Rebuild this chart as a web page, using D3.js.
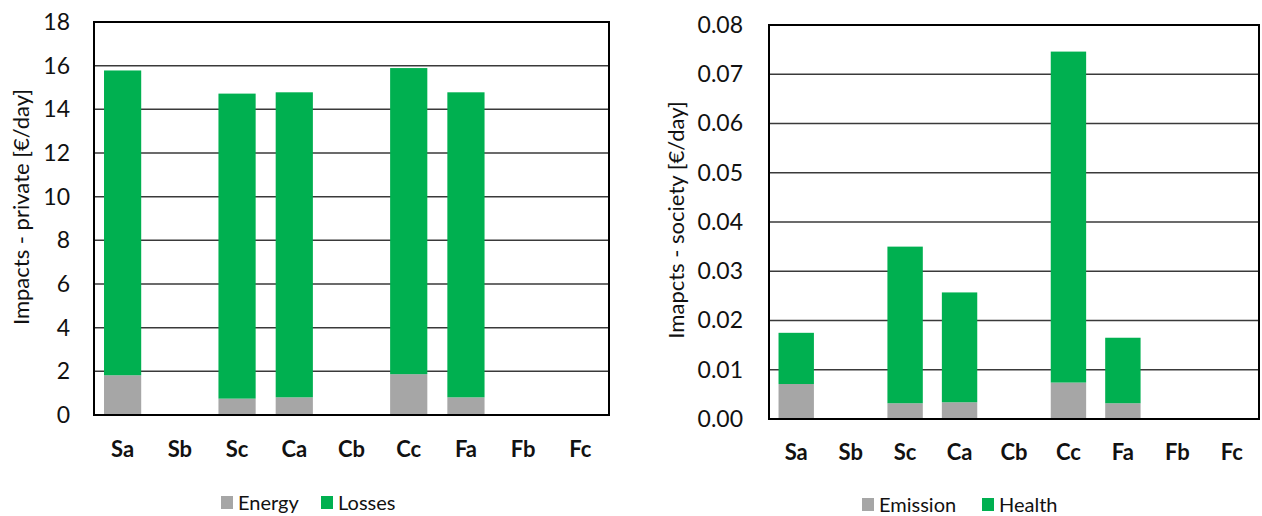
<!DOCTYPE html>
<html><head><meta charset="utf-8">
<script src="https://cdn.jsdelivr.net/npm/d3@7"></script>
<style>body{margin:0;background:#fff}svg{display:block}text{font-family:Lato,"Open Sans",sans-serif;fill:#111}</style>
</head><body>
<svg id="c" width="1262" height="516"></svg>
<script>
const categories = ["Sa","Sb","Sc","Ca","Cb","Cc","Fa","Fb","Fc"];
const energy = [1.82,0,0.75,0.81,0,1.87,0.81,0,0];
const losses = [13.96,0,13.97,13.97,0,14.02,13.97,0,0];
const emission = [0.0071,0,0.0032,0.0034,0,0.0074,0.0032,0,0];
const health = [0.0104,0,0.0318,0.0223,0,0.0672,0.0133,0,0];
const leftTicks = [0,2,4,6,8,10,12,14,16,18];
const rightTicks = [0,0.01,0.02,0.03,0.04,0.05,0.06,0.07,0.08];

const svg = d3.select("#c");
const GRAY = "#a6a6a6", GREEN = "#00b050";

function panel(o){
  const g = svg.append("g");
  const x = d3.scaleBand().domain(categories).range([o.x0,o.x1]).paddingInner(0.35).paddingOuter(0.175);
  const y = d3.scaleLinear().domain([0,o.max]).range([o.y0,o.y1]);
  g.append("g").selectAll("line").data(o.ticks).join("line")
    .attr("x1",o.x0).attr("x2",o.x1).attr("y1",d=>y(d)).attr("y2",d=>y(d))
    .attr("stroke","#3a3a3a").attr("stroke-width",1.5);
  const rows = categories.map((c,i)=>({c,a:o.a[i],b:o.b[i]}));
  const stack = d3.stack().keys(["a","b"])(rows);
  const colors=[GRAY,GREEN];
  stack.forEach((s,k)=>{
    g.append("g").selectAll("rect").data(s).join("rect")
      .attr("x",d=>x(d.data.c)).attr("width",x.bandwidth())
      .attr("y",d=>y(d[1])).attr("height",d=>y(d[0])-y(d[1]))
      .attr("fill",colors[k]);
  });
  g.append("rect").attr("x",o.x0).attr("y",o.y1).attr("width",o.x1-o.x0).attr("height",o.y0-o.y1)
    .attr("fill","none").attr("stroke","#000").attr("stroke-width",2);
  const ya = g.append("g").attr("transform",`translate(${o.x0},0)`)
    .call(d3.axisLeft(y).tickValues(o.ticks).tickFormat(o.fmt).tickSize(0).tickPadding(o.pad));
  ya.select(".domain").remove();
  ya.selectAll("text").style("font-size","23px").attr("fill","#111");
  const xa = g.append("g").attr("transform",`translate(0,${o.y0})`)
    .call(d3.axisBottom(x).tickSize(0).tickPadding(o.xpad));
  xa.select(".domain").remove();
  xa.selectAll("text").style("font-size","22px").style("font-weight","bold").attr("fill","#111");
  g.append("text").attr("transform",`translate(${o.tx},${o.ty}) rotate(-90)`)
    .attr("text-anchor","middle").style("font-size","22px").text(o.title);
  const lg = g.append("g");
  o.legend.forEach((l,i)=>{
    lg.append("rect").attr("x",l.x).attr("y",o.ly-14).attr("width",12).attr("height",13).attr("fill",colors[i]);
    lg.append("text").attr("x",l.x+17).attr("y",o.ly).style("font-size","20px").attr("fill","#6d6d6d").text(l.t);
  });
}

panel({x0:94,x1:609,y0:415,y1:22,max:18,ticks:leftTicks,fmt:d3.format("d"),pad:24,xpad:26,
  a:energy,b:losses,title:"Impacts - private [€/day]",tx:29,ty:207,ly:510,
  legend:[{x:221,t:"Energy"},{x:321,t:"Losses"}]});
panel({x0:769,x1:1259,y0:419,y1:25,max:0.08,ticks:rightTicks,fmt:d3.format(".2f"),pad:26,xpad:25,
  a:emission,b:health,title:"Imapcts - society [€/day]",tx:684,ty:220,ly:512,
  legend:[{x:862,t:"Emission"},{x:982,t:"Health"}]});
</script>
</body></html>
